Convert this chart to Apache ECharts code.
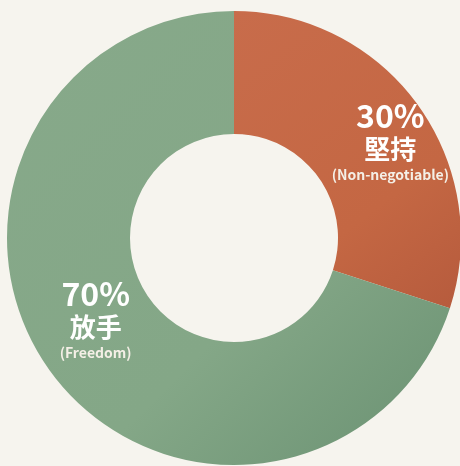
<!DOCTYPE html>
<html>
<head>
<meta charset="utf-8">
<script src="https://cdn.jsdelivr.net/npm/echarts@6/dist/echarts.min.js"></script>
<style>
html,body{margin:0;padding:0;background:#F6F4EE;}
#c{width:460px;height:466px;}
</style>
</head>
<body>
<div id="c"></div>
<script>
const names = ['堅持', '放手'];
const subNames = ['(Non-negotiable)', '(Freedom)'];
const values = [30, 70];

const chart = echarts.init(document.getElementById('c'), null, {renderer: 'canvas'});
const G = echarts.graphic.LinearGradient;
const colors = [
  new G(0, 0, 1, 1, [{offset: 0, color: '#C86C4B'}, {offset: 0.65, color: '#C46743'}, {offset: 1, color: '#B65B3D'}]),
  new G(0, 0, 1, 1, [{offset: 0, color: '#87A98A'}, {offset: 0.6, color: '#84A787'}, {offset: 1, color: '#6A9172'}])
];
const offsets = [[20, 3], [-2, -17]];

const font = '"Noto Sans CJK TC", "Noto Sans", sans-serif';
chart.setOption({
  backgroundColor: '#F6F4EE',
  animation: false,
  series: [{
    type: 'pie',
    center: [234, 238],
    radius: [104, 227],
    startAngle: 90,
    clockwise: true,
    silent: true,
    itemStyle: {borderWidth: 0},
    label: {
      show: true,
      position: 'inside',
      formatter: function (p) {
        return '{p|' + p.value + '%}\n{n|' + names[p.dataIndex] + '}\n{s|' + subNames[p.dataIndex] + '}';
      },
      rich: {
        p: {fontSize: 32, fontWeight: 'bold', color: '#FFFFFF', fontFamily: font, lineHeight: 34, align: 'center'},
        n: {fontSize: 26, fontWeight: 'bold', color: '#FFFFFF', fontFamily: font, lineHeight: 32, align: 'center'},
        s: {fontSize: 14, fontWeight: 'bold', color: '#F4EFE6', fontFamily: font, lineHeight: 20, align: 'center'}
      }
    },
    labelLine: {show: false},
    data: values.map(function (v, i) {
      return {
        value: v,
        name: names[i],
        itemStyle: {color: colors[i]},
        label: {offset: offsets[i]}
      };
    })
  }]
});
</script>
</body>
</html>
